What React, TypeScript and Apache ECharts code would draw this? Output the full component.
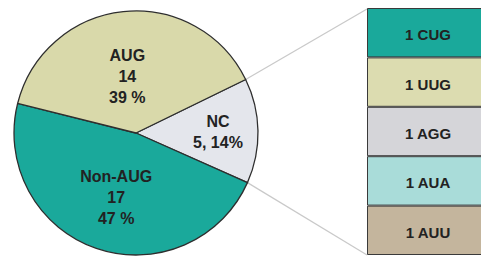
import React, { useEffect, useRef } from "react";
import * as echarts from "echarts";

const pieNames = ["NC", "Non-AUG", "AUG"];
const pieValues = [5, 17, 14];
const pieColors = ["#e4e6ec", "#1aa99b", "#d9d9aa"];

const codons = ["CUG", "UUG", "AGG", "AUA", "AUU"];
const codonCounts = [1, 1, 1, 1, 1];
const codonColors = ["#1aa99b", "#dcdcb0", "#d5d5d9", "#a9dcd9", "#c4b59d"];

const W = 481;
const H = 256;
const CX = 136;
const CY = 133;
const R = 122;
const START = 26;
const BAR_LEFT = 367;
const BAR_TOP = 8;
const BAR_BOTTOM = 255;
const BAR_WIDTH = 140;
const FONT = "'Liberation Sans', Arial, sans-serif";

export default function App() {
  const ref = useRef<HTMLDivElement>(null);
  useEffect(() => {
    if (!ref.current) return;
    const chart = echarts.init(ref.current, undefined, { renderer: "svg" });
    const total = pieValues.reduce((a, b) => a + b, 0);
    const ncAngle = (pieValues[0] / total) * 360;
    const a1 = (START * Math.PI) / 180;
    const a2 = ((START - ncAngle) * Math.PI) / 180;
    const p1 = [CX + R * Math.cos(a1), CY - R * Math.sin(a1)];
    const p2 = [CX + R * Math.cos(a2), CY - R * Math.sin(a2)];

    const labelOffsets: Record<string, [number, number]> = {
      NC: [18, 0],
      "Non-AUG": [1, 4],
      AUG: [-2, 7],
    };

    const barSeries = codons
      .map((c, i) => ({
        type: "bar" as const,
        name: c,
        stack: "nc",
        barWidth: "100%",
        data: [codonCounts[i]],
        itemStyle: { color: codonColors[i], borderColor: "#3a3a3a", borderWidth: 1 },
        label: {
          show: true,
          position: "inside",
          offset: [-9, 2],
          formatter: () => `${codonCounts[i]} ${c}`,
          color: "#222",
          fontFamily: FONT,
          fontWeight: "bold",
          fontSize: 15,
        },
      }))
      .reverse();

    chart.setOption({
      animation: false,
      grid: {
        left: BAR_LEFT,
        top: BAR_TOP,
        width: BAR_WIDTH,
        height: BAR_BOTTOM - BAR_TOP,
        outerBoundsMode: "none",
        containLabel: false,
      },
      xAxis: { type: "category", data: ["NC"], show: false },
      yAxis: {
        type: "value",
        min: 0,
        max: codonCounts.reduce((a, b) => a + b, 0),
        show: false,
      },
      graphic: [
        {
          type: "line",
          shape: { x1: p1[0], y1: p1[1], x2: BAR_LEFT, y2: BAR_TOP + 1 },
          style: { stroke: "#c9c9c9", lineWidth: 1.2 },
          z: 0,
        },
        {
          type: "line",
          shape: { x1: p2[0], y1: p2[1], x2: BAR_LEFT, y2: BAR_BOTTOM },
          style: { stroke: "#c9c9c9", lineWidth: 1.2 },
          z: 0,
        },
      ],
      series: [
        {
          type: "pie",
          center: [CX, CY],
          radius: R,
          startAngle: START,
          clockwise: true,
          avoidLabelOverlap: false,
          data: pieNames.map((n, i) => ({
            name: n,
            value: pieValues[i],
            itemStyle: { color: pieColors[i] },
          })),
          itemStyle: { borderColor: "#2e2e2e", borderWidth: 1.3 },
          label: {
            show: true,
            position: "inner",
            color: "#222",
            fontFamily: FONT,
            fontWeight: "bold",
            fontSize: 16,
            lineHeight: 21,
            formatter: (p: any) => {
              const pct = Math.round((p.value / total) * 100);
              if (p.name === "NC") return `${p.name}\n${p.value}, ${pct}%`;
              return `${p.name}\n${p.value}\n${pct} %`;
            },
          },
          labelLine: { show: false },
          labelLayout: (params: any) => {
            const name = pieNames[params.dataIndex];
            const o = labelOffsets[name] || [0, 0];
            return { dx: o[0], dy: o[1] };
          },
        },
        ...barSeries,
      ],
    });
    return () => chart.dispose();
  }, []);
  return (
    <div
      ref={ref}
      style={{ position: "fixed", left: 0, top: 0, width: W, height: H, background: "#fff" }}
    />
  );
}
